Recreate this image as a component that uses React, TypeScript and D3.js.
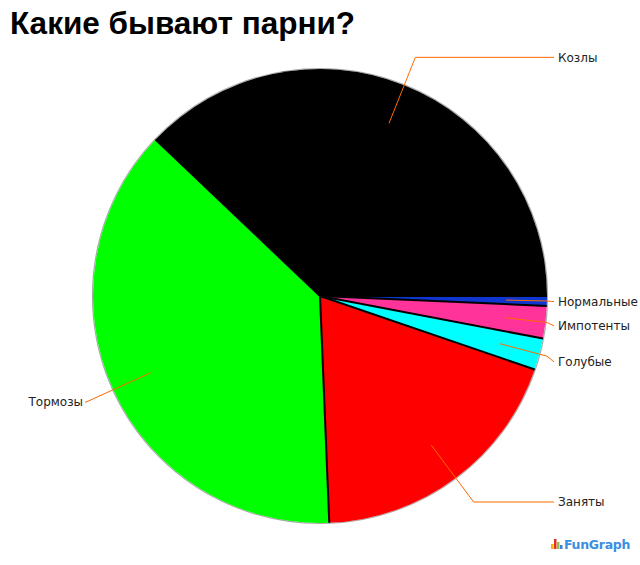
import React from "react";
import * as d3 from "d3";

const title = "Какие бывают парни?";
const categories = ["Козлы", "Тормозы", "Заняты", "Голубые", "Импотенты", "Нормальные"];
const values = [37.9, 37.75, 19.1, 2.25, 2.3, 0.7];
const colors = ["#000000", "#00ff00", "#ff0000", "#00ffff", "#ff3399", "#1036d0"];

const W = 640;
const H = 565;
const cx = 320;
const cy = 296;
const R = 227;

export default function App() {
  const pie = d3
    .pie<number>()
    .sort(null)
    .value((d) => d)
    .startAngle(Math.PI / 2)
    .endAngle(Math.PI / 2 - 2 * Math.PI);
  const arcs = pie(values);
  const arcGen = d3.arc<d3.PieArcDatum<number>>().innerRadius(0).outerRadius(R);

  const pt = (a: number, r: number) => [r * Math.sin(a), -r * Math.cos(a)];

  const labelItems = arcs.map((a, i) => {
    const mid = (a.startAngle + a.endAngle) / 2;
    const [ix, iy] = pt(mid, 186);
    let [ex, ey] = pt(mid, 257);
    const labelY = ey;
    const right = ex > 0;
    if (right && ex > R) {
      const t = R / ex;
      ex = ex * t;
      ey = ey * t;
    }
    const endX = right ? 234 : -235;
    const textX = right ? 238 : -237;
    return { i, ix, iy, ex, ey, labelY, right, endX, textX };
  });

  const boundaries = arcs.map((a) => a.startAngle);

  return (
    <svg
      width={W}
      height={H}
      style={{ position: "absolute", left: 0, top: 0, background: "#fff" }}
      fontFamily="'DejaVu Sans', Verdana, sans-serif"
    >
      <text x={10} y={34} fontFamily="'Liberation Sans', Arial, sans-serif" fontWeight="bold" fontSize={31.5} fill="#000">
        {title}
      </text>
      <g transform={`translate(${cx},${cy})`}>
        <circle r={R + 0.5} fill="none" stroke="#aaa" strokeWidth={1.2} />
        {arcs.map((a, i) => (
          <path key={i} d={arcGen(a) || ""} fill={colors[i]} />
        ))}
        {boundaries.map((b, i) => {
          const [x, y] = pt(b, R);
          return <line key={i} x1={0} y1={0} x2={x} y2={y} stroke="#000" strokeWidth={2} />;
        })}
        {labelItems.map((l) => (
          <g key={l.i}>
            <polyline
              points={`${l.ix},${l.iy} ${l.ex},${l.ey} ${l.endX},${l.labelY}`}
              fill="none"
              stroke="#ff6a00"
              strokeWidth={1}
            />
            <text
              x={l.textX}
              y={l.labelY}
              dy="0.36em"
              fontSize={12}
              fill="#222"
              textAnchor={l.right ? "start" : "end"}
            >
              {categories[l.i]}
            </text>
          </g>
        ))}
      </g>
      <g transform="translate(551,539)">
        <rect x={0} y={5} width={2.5} height={5} fill="#f5b400" />
        <rect x={3} y={0} width={2.5} height={10} fill="#e0301e" />
        <rect x={6} y={3} width={2.5} height={7} fill="#8bc34a" />
        <rect x={9} y={6} width={2.5} height={4} fill="#3f7fd8" />
        <text x={13} y={10} fontFamily="'DejaVu Sans', Verdana, sans-serif" fontWeight="bold" fontSize={12.5} fill="#3a8fe0" letterSpacing={-0.3}>
          FunGraph
        </text>
      </g>
    </svg>
  );
}
